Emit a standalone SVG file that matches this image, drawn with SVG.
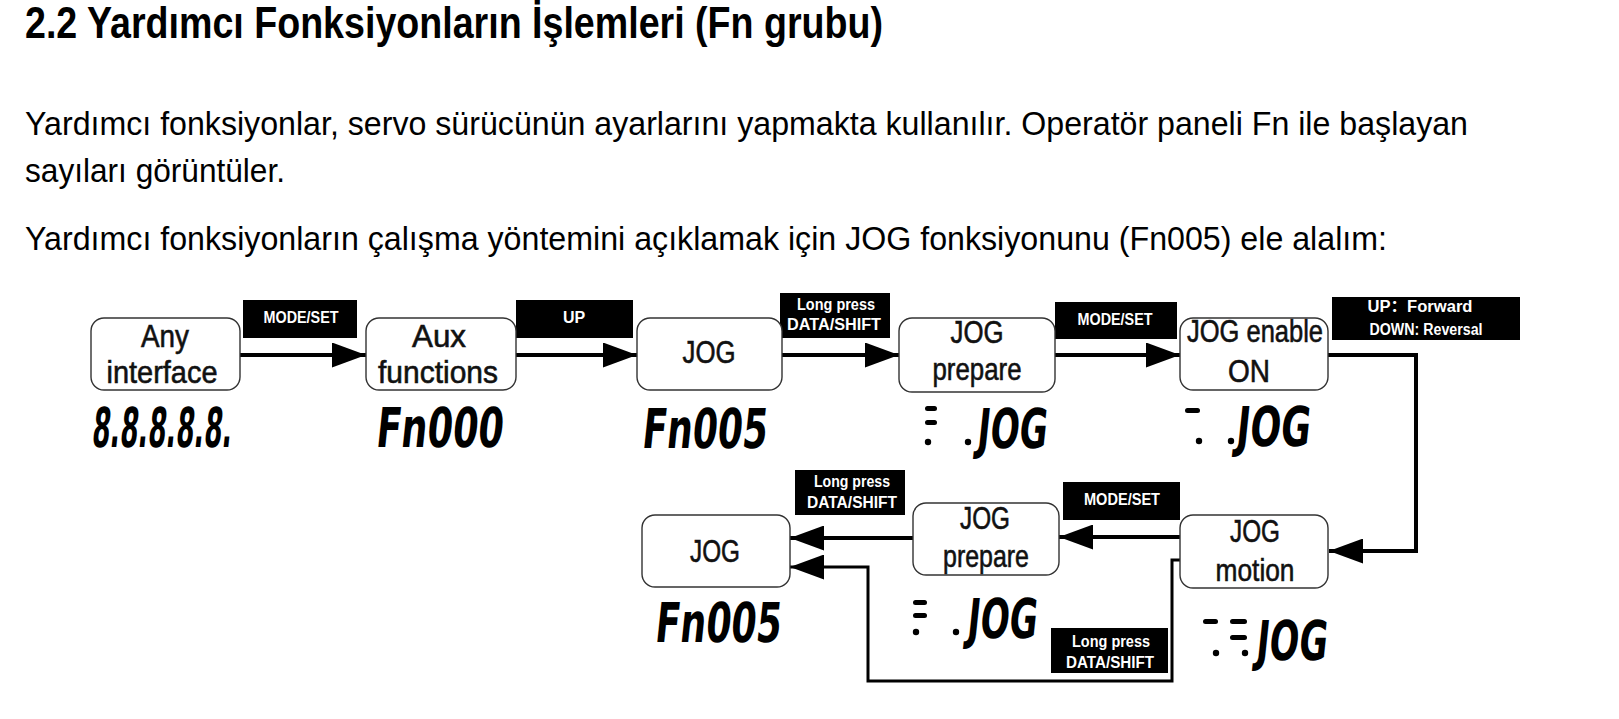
<svg xmlns="http://www.w3.org/2000/svg" width="1619" height="719" viewBox="0 0 1619 719">
<defs>
<style>
.h{font-family:"Liberation Sans",Arial,sans-serif;font-weight:bold;font-size:44px;fill:#000}
.p{font-family:"Liberation Sans",Arial,sans-serif;font-size:34px;fill:#000}
.box{fill:#fff;stroke:#333;stroke-width:1.4}
.bt{font-family:"Liberation Sans",Arial,sans-serif;font-size:32px;fill:#111;stroke:#111;stroke-width:0.6;text-anchor:middle}
.lb{fill:#000}
.lt{font-family:"Liberation Sans",Arial,"Noto Sans CJK SC",sans-serif;font-weight:bold;font-size:16px;fill:#fff;text-anchor:middle}
.seg{font-family:"DejaVu Sans Condensed","DejaVu Sans",sans-serif;font-weight:bold;font-size:55px;fill:#000}
.sb{fill:#000}
.c{fill:none;stroke:#000;stroke-width:4}
.c2{fill:none;stroke:#000;stroke-width:3}
</style>
<marker id="ah" markerUnits="userSpaceOnUse" markerWidth="34" markerHeight="25" viewBox="0 0 34 25" refX="34" refY="12.5" orient="auto">
<path d="M0,0 L34,12.5 L0,25 Z" fill="#000"/>
</marker>
</defs>
<rect width="1619" height="719" fill="#fff"/>

<text class="h" x="25" y="38" textLength="858" lengthAdjust="spacingAndGlyphs">2.2 Yardımcı Fonksiyonların İşlemleri (Fn grubu)</text>
<text class="p" x="25" y="135" textLength="1443" lengthAdjust="spacingAndGlyphs">Yardımcı fonksiyonlar, servo sürücünün ayarlarını yapmakta kullanılır. Operatör paneli Fn ile başlayan</text>
<text class="p" x="25" y="182" textLength="260" lengthAdjust="spacingAndGlyphs">sayıları görüntüler.</text>
<text class="p" x="25" y="250" textLength="1362" lengthAdjust="spacingAndGlyphs">Yardımcı fonksiyonların çalışma yöntemini açıklamak için JOG fonksiyonunu (Fn005) ele alalım:</text>

<g id="connectors">
<path class="c" d="M240,355 H366" marker-end="url(#ah)"/>
<path class="c" d="M516,355 H637" marker-end="url(#ah)"/>
<path class="c" d="M782,355 H899" marker-end="url(#ah)"/>
<path class="c" d="M1055,355 H1180" marker-end="url(#ah)"/>
<path class="c" d="M1328,355 H1416 V551 H1329" marker-end="url(#ah)"/>
<path class="c" d="M1180,537 H1059" marker-end="url(#ah)"/>
<path class="c" d="M913,538 H790" marker-end="url(#ah)"/>
<path class="c2" d="M1180,560 H1172 V681 H868 V567 H790" marker-end="url(#ah)"/>
</g>

<g id="lbl1"><rect class="lb" x="243" y="300" width="114" height="38"/><text class="lt" x="301" y="323" textLength="75" lengthAdjust="spacingAndGlyphs">MODE/SET</text></g>
<g id="lbl2"><rect class="lb" x="516" y="300" width="117" height="38"/><text class="lt" x="574" y="323">UP</text></g>
<g id="lbl3"><rect class="lb" x="780" y="293" width="110" height="45"/><text class="lt" x="836" y="310" textLength="78" lengthAdjust="spacingAndGlyphs">Long press</text><text class="lt" x="834" y="330" textLength="94" lengthAdjust="spacingAndGlyphs">DATA/SHIFT</text></g>
<g id="lbl4"><rect class="lb" x="1055" y="302" width="122" height="37"/><text class="lt" x="1115" y="325" textLength="75" lengthAdjust="spacingAndGlyphs">MODE/SET</text></g>
<g id="lbl5"><rect class="lb" x="1332" y="297" width="188" height="43"/><text class="lt" x="1420" y="312" textLength="105" lengthAdjust="spacingAndGlyphs">UP：Forward</text><text class="lt" x="1426" y="335" textLength="113" lengthAdjust="spacingAndGlyphs">DOWN: Reversal</text></g>
<g id="lbl6"><rect class="lb" x="795" y="470" width="110" height="45"/><text class="lt" x="852" y="487" textLength="76" lengthAdjust="spacingAndGlyphs">Long press</text><text class="lt" x="852" y="508" textLength="90" lengthAdjust="spacingAndGlyphs">DATA/SHIFT</text></g>
<g id="lbl7"><rect class="lb" x="1063" y="482" width="117" height="38"/><text class="lt" x="1122" y="505" textLength="76" lengthAdjust="spacingAndGlyphs">MODE/SET</text></g>
<g id="lbl8"><rect class="lb" x="1051" y="628" width="117" height="45"/><text class="lt" x="1111" y="647" textLength="78" lengthAdjust="spacingAndGlyphs">Long press</text><text class="lt" x="1110" y="668" textLength="88" lengthAdjust="spacingAndGlyphs">DATA/SHIFT</text></g>

<g id="n-any"><rect class="box" x="91" y="318" width="149" height="72" rx="13"/><text class="bt" x="165" y="347" textLength="48" lengthAdjust="spacingAndGlyphs">Any</text><text class="bt" x="162" y="383" textLength="111" lengthAdjust="spacingAndGlyphs">interface</text>
<text class="seg" x="93" y="447" textLength="140" lengthAdjust="spacingAndGlyphs" transform="translate(44.9,0) skewX(-6)">8.8.8.8.8.</text></g>

<g id="n-aux"><rect class="box" x="366" y="318" width="150" height="72" rx="13"/><text class="bt" x="439" y="347" textLength="54" lengthAdjust="spacingAndGlyphs">Aux</text><text class="bt" x="438" y="383" textLength="120" lengthAdjust="spacingAndGlyphs">functions</text>
<text class="seg" x="377" y="447" textLength="127" lengthAdjust="spacingAndGlyphs" transform="translate(44.9,0) skewX(-6)">Fn000</text></g>

<g id="n-jog1"><rect class="box" x="637" y="318" width="145" height="72" rx="13"/><text class="bt" x="709" y="363" textLength="53" lengthAdjust="spacingAndGlyphs">JOG</text>
<text class="seg" x="643" y="448" textLength="125" lengthAdjust="spacingAndGlyphs" transform="translate(45,0) skewX(-6)">Fn005</text></g>

<g id="n-prep1"><rect class="box" x="899" y="318" width="156" height="74" rx="13"/><text class="bt" x="977" y="343" textLength="53" lengthAdjust="spacingAndGlyphs">JOG</text><text class="bt" x="977" y="380" textLength="89" lengthAdjust="spacingAndGlyphs">prepare</text>
<rect class="sb" x="925" y="406" width="12" height="5" rx="2.5"/><rect class="sb" x="925" y="420" width="12" height="5" rx="2.5"/><circle class="sb" cx="928" cy="442" r="3.2"/><circle class="sb" cx="968" cy="442" r="3.2"/>
<text class="seg" x="978" y="448" textLength="70" lengthAdjust="spacingAndGlyphs" transform="translate(45,0) skewX(-6)">JOG</text></g>

<g id="n-enable"><rect class="box" x="1180" y="318" width="148" height="72" rx="13"/><text class="bt" x="1255" y="342" textLength="136" lengthAdjust="spacingAndGlyphs">JOG enable</text><text class="bt" x="1249" y="382" textLength="42" lengthAdjust="spacingAndGlyphs">ON</text>
<rect class="sb" x="1185" y="408" width="15" height="5" rx="2.5"/><circle class="sb" cx="1199" cy="441" r="3.2"/><circle class="sb" cx="1231" cy="441" r="3.2"/>
<text class="seg" x="1237" y="446" textLength="74" lengthAdjust="spacingAndGlyphs" transform="translate(44.8,0) skewX(-6)">JOG</text></g>

<g id="n-motion"><rect class="box" x="1180" y="515" width="148" height="73" rx="13"/><text class="bt" x="1255" y="542" textLength="50" lengthAdjust="spacingAndGlyphs">JOG</text><text class="bt" x="1255" y="581" textLength="79" lengthAdjust="spacingAndGlyphs">motion</text>
<rect class="sb" x="1203" y="619" width="15" height="5" rx="2.5"/><circle class="sb" cx="1216" cy="653" r="3.2"/><rect class="sb" x="1230" y="619" width="17" height="5" rx="2.5"/><rect class="sb" x="1230" y="635" width="17" height="5" rx="2.5"/><circle class="sb" cx="1245" cy="653" r="3.2"/>
<text class="seg" x="1257" y="660" textLength="71" lengthAdjust="spacingAndGlyphs" transform="translate(67.3,0) skewX(-6)">JOG</text></g>

<g id="n-prep2"><rect class="box" x="913" y="503" width="146" height="72" rx="13"/><text class="bt" x="985" y="529" textLength="50" lengthAdjust="spacingAndGlyphs">JOG</text><text class="bt" x="986" y="567" textLength="86" lengthAdjust="spacingAndGlyphs">prepare</text>
<rect class="sb" x="913" y="600" width="14" height="5" rx="2.5"/><rect class="sb" x="913" y="613" width="14" height="5" rx="2.5"/><circle class="sb" cx="916" cy="632" r="3.2"/><circle class="sb" cx="956" cy="632" r="3.2"/>
<text class="seg" x="968" y="638" textLength="70" lengthAdjust="spacingAndGlyphs" transform="translate(65,0) skewX(-6)">JOG</text></g>

<g id="n-jog2"><rect class="box" x="642" y="515" width="148" height="72" rx="13"/><text class="bt" x="715" y="562" textLength="50" lengthAdjust="spacingAndGlyphs">JOG</text>
<text class="seg" x="656" y="642" textLength="126" lengthAdjust="spacingAndGlyphs" transform="translate(65.4,0) skewX(-6)">Fn005</text></g>
</svg>
